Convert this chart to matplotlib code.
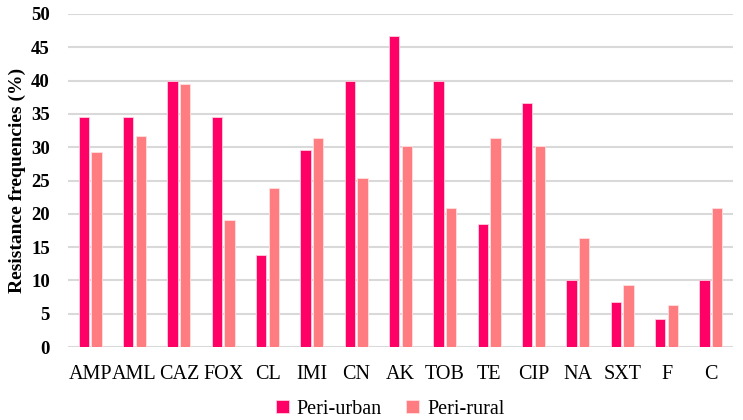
import matplotlib
matplotlib.use("Agg")
import matplotlib.pyplot as plt
import numpy as np

categories = ["AMP", "AML", "CAZ", "FOX", "CL", "IMI", "CN", "AK", "TOB", "TE",
              "CIP", "NA", "SXT", "F", "C"]
peri_urban = [34.5, 34.5, 40.0, 34.5, 13.8, 29.6, 40.0, 46.7, 40.0, 18.5,
              36.7, 10.0, 6.7, 4.2, 10.0]
peri_rural = [29.3, 31.7, 39.5, 19.0, 23.8, 31.4, 25.4, 30.2, 20.9, 31.4,
              30.2, 16.3, 9.3, 6.3, 20.9]
yticks = [0, 5, 10, 15, 20, 25, 30, 35, 40, 45, 50]

plt.rcParams['font.family'] = ['Liberation Serif', 'DejaVu Serif']

fig = plt.figure(figsize=(7.43, 4.20), dpi=100)
ax = fig.add_axes([68/743, 1-347/420, (733-68)/743, (347-14)/420])

x = np.arange(len(categories))
w = 0.232
off = 0.143
c_urban = "#FF0066"
c_rural = "#FF7C80"
ax.bar(x - off, peri_urban, width=w, color=c_urban, edgecolor="#FFD0DD", linewidth=0.6,
       label="Peri-urban", zorder=3)
ax.bar(x + off, peri_rural, width=w, color=c_rural, edgecolor="#FFE0E0", linewidth=0.6,
       label="Peri-rural", zorder=3)

ax.set_xlim(-0.5, len(categories) - 0.5)
ax.set_ylim(0, 50)
ax.set_yticks(yticks)
ax.yaxis.grid(True, color="#D9D9D9", linewidth=1.5, zorder=0)
ax.set_axisbelow(True)
for s in ax.spines.values():
    s.set_visible(False)
ax.tick_params(axis="both", length=0)
ax.tick_params(axis="y", pad=13)
ax.tick_params(axis="x", pad=13)
ax.set_xticks(x)
ax.set_xticklabels(categories, fontsize=14.5)
for lbl in ax.get_yticklabels():
    lbl.set_fontweight("bold")
    lbl.set_fontsize(13.5)
ax.set_ylabel("Resistance frequencies (%)", fontsize=14, fontweight="bold", labelpad=4)

fig.legend(loc="center", bbox_to_anchor=(390/743, 1-409/420), ncol=2, frameon=False,
           fontsize=14.5, handlelength=0.65, handleheight=0.65, handletextpad=0.4,
           columnspacing=1.2)

fig.savefig("out.png", dpi=100)
